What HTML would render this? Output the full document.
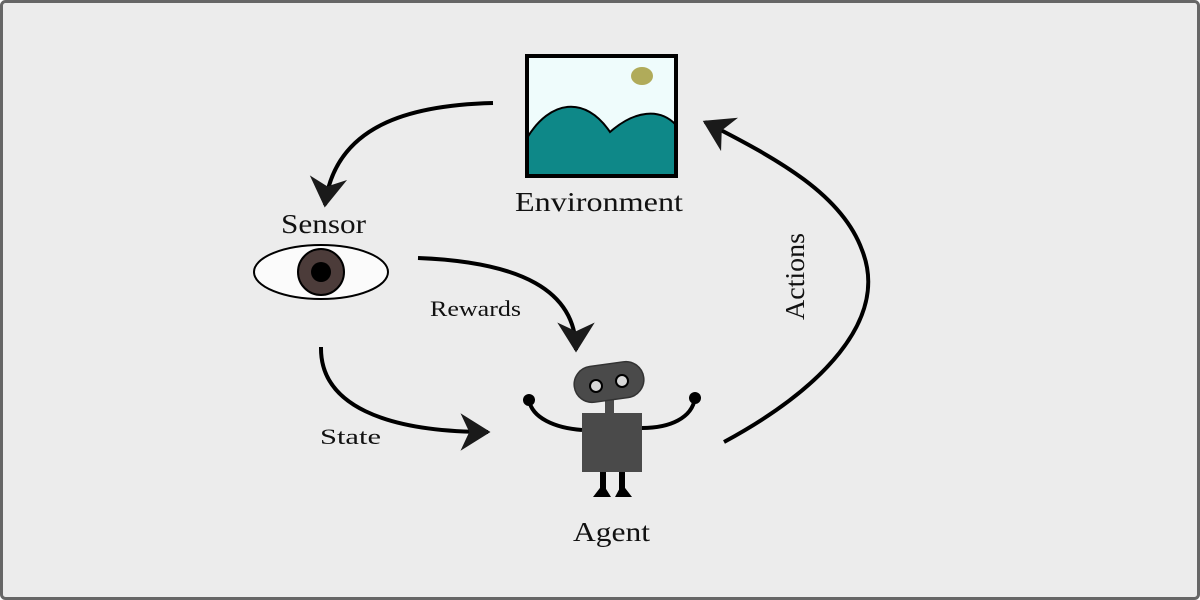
<!DOCTYPE html>
<html><head><meta charset="utf-8"><style>
html,body{margin:0;padding:0;background:#fff}
svg{display:block}
text{font-family:"Liberation Serif",serif;fill:#111}
</style></head><body>
<svg width="1200" height="600" viewBox="0 0 1200 600" xmlns="http://www.w3.org/2000/svg">
<defs>
<marker id="ah" markerUnits="userSpaceOnUse" markerWidth="50" markerHeight="50" refX="0" refY="0" viewBox="-30 -20 36 40" orient="auto">
<path d="M2,0 L-22,-15 L-15,0 L-22,15 Z" fill="#1a1a1a"/>
</marker>
</defs>
<rect x="1.5" y="1.5" width="1197" height="597" rx="4" fill="#ececec" stroke="#666" stroke-width="3"/>
<rect x="527" y="56" width="149" height="120" fill="#effcfc"/>
<path d="M527,138 C550,100 585,95 610,132 C635,110 660,108 676,125 L676,176 L527,176 Z" fill="#0e8888" stroke="#000" stroke-width="2"/>
<ellipse cx="642" cy="76" rx="11" ry="9" fill="#b0ab5a"/>
<rect x="527" y="56" width="149" height="120" fill="none" stroke="#000" stroke-width="4"/>
<text x="515" y="211" font-size="27" textLength="168" lengthAdjust="spacingAndGlyphs">Environment</text>
<text x="281" y="233" font-size="27" textLength="85" lengthAdjust="spacingAndGlyphs">Sensor</text>
<ellipse cx="321" cy="272" rx="67" ry="27" fill="#fbfbfb" stroke="#000" stroke-width="2"/>
<circle cx="321" cy="272" r="23" fill="#4c3c3a" stroke="#000" stroke-width="2"/>
<circle cx="321" cy="272" r="10" fill="#000"/>
<g fill="none" stroke="#000" stroke-width="4">
<path d="M493,103 C410,105 335,125 325,205" marker-end="url(#ah)"/>
<path d="M418,258 C520,262 576,290 576,350" marker-end="url(#ah)"/>
<path d="M321,347 C320,405 385,432 488,432" marker-end="url(#ah)"/>
<path d="M724,442 C820,390 890,320 862,250 C842,195 780,160 705,122" marker-end="url(#ah)"/>
</g>
<text x="430" y="316" font-size="22" textLength="91" lengthAdjust="spacingAndGlyphs">Rewards</text>
<text x="320" y="444" font-size="22" textLength="61" lengthAdjust="spacingAndGlyphs">State</text>
<text transform="translate(804,320) rotate(-90)" font-size="27" textLength="87" lengthAdjust="spacingAndGlyphs">Actions</text>
<g>
<path d="M582,430 C555,428 532,418 529,400" fill="none" stroke="#000" stroke-width="4"/>
<circle cx="529" cy="400" r="6" fill="#000"/>
<path d="M642,428 C670,428 692,418 695,398" fill="none" stroke="#000" stroke-width="4"/>
<circle cx="695" cy="398" r="6" fill="#000"/>
<rect x="605" y="398" width="9" height="18" fill="#4a4a4a"/>
<rect x="574" y="364" width="70" height="36" rx="18" fill="#4a4a4a" stroke="#333" stroke-width="1.5" transform="rotate(-8 609 382)"/>
<circle cx="596" cy="386" r="6" fill="#d8d8d8" stroke="#000" stroke-width="2"/>
<circle cx="622" cy="381" r="6" fill="#d8d8d8" stroke="#000" stroke-width="2"/>
<rect x="582" y="413" width="60" height="59" fill="#4a4a4a"/>
<rect x="600" y="472" width="6" height="18" fill="#000"/>
<rect x="619" y="472" width="6" height="18" fill="#000"/>
<polygon points="593,497 603,484 611,497" fill="#000"/>
<polygon points="615,497 622,484 632,497" fill="#000"/>
</g>
<text x="573" y="541" font-size="27" textLength="77" lengthAdjust="spacingAndGlyphs">Agent</text>
</svg>
</body></html>
